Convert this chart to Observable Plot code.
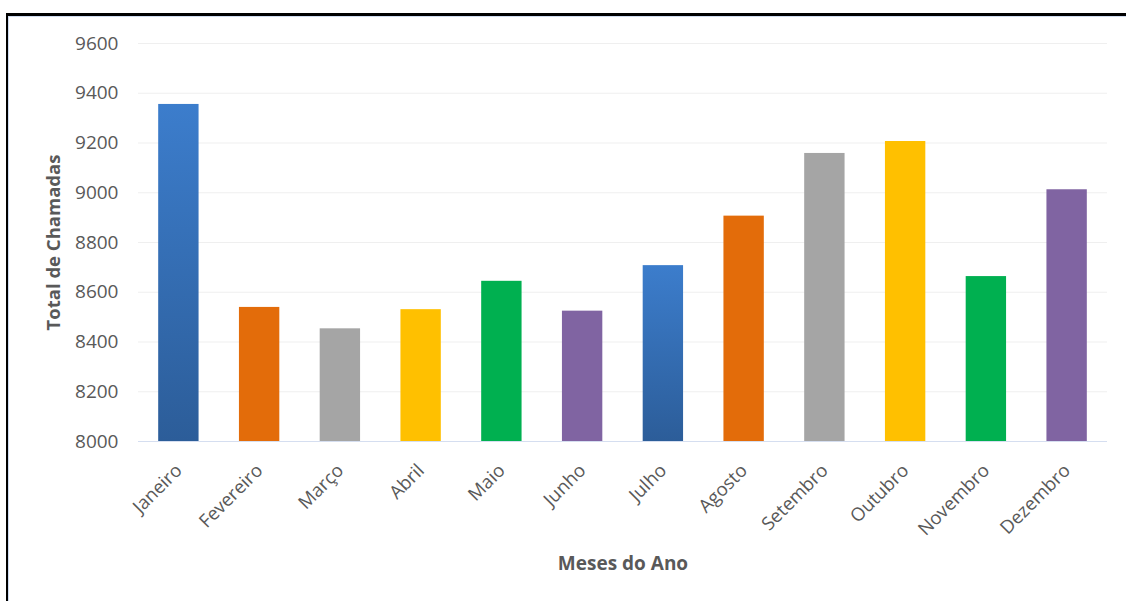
<!DOCTYPE html>
<html>
<head>
<meta charset="utf-8">
<script src="https://cdn.jsdelivr.net/npm/d3@7"></script>
<script src="https://cdn.jsdelivr.net/npm/@observablehq/plot@0.6"></script>
<style>
  html, body { margin: 0; padding: 0; background: #fff; }
  #wrap { position: relative; width: 1126px; height: 601px; overflow: hidden; }
  #frame {
    position: absolute; left: 6px; top: 13px; right: -10px; bottom: -10px;
    border-top: 3px solid #000; border-left: 2px solid #000;
    box-shadow: inset 1px 1px 0 #cfdcf0;
    pointer-events: none;
  }
  svg text { font-family: "Open Sans", sans-serif; }
</style>
</head>
<body>
<div id="wrap"><div id="frame"></div></div>
<script>
// Total de chamadas por mês
const meses = ["Janeiro", "Fevereiro", "Março", "Abril", "Maio", "Junho",
               "Julho", "Agosto", "Setembro", "Outubro", "Novembro", "Dezembro"];
const chamadas = [9355, 8539, 8453, 8530, 8644, 8524, 8707, 8906, 9158, 9206, 8663, 9012];
const yTicks = [8000, 8200, 8400, 8600, 8800, 9000, 9200, 9400, 9600];

// Paleta cíclica (azul em degradê, laranja, cinza, amarelo, verde, roxo)
const paleta = ["url(#azul)", "#e36c0a", "#a5a5a5", "#ffc000", "#00b050", "#8064a2"];

const dados = meses.map((m, i) => ({mes: m, total: chamadas[i], cor: paleta[i % paleta.length]}));

const grid = "#efefef";
const textColor = "#595959";

const chart = Plot.plot({
  width: 1126,
  height: 601,
  marginLeft: 138,
  marginRight: 19,
  marginTop: 43,
  marginBottom: 160,
  style: {background: "transparent", color: textColor},
  x: {domain: meses, paddingInner: 0.5, paddingOuter: 0.25, align: 0.5, round: false, label: null},
  y: {domain: [8000, 9600], label: null},
  color: {type: "identity"},
  marks: [
    Plot.ruleY(yTicks.filter(t => t > 8000), {stroke: grid, strokeWidth: 1.2}),
    Plot.barY(dados, {
      x: "mes", y1: 8000, y2: "total", fill: "cor",
      style: "filter: drop-shadow(1px 1px 1.5px rgba(0,0,0,0.28))"
    }),
    Plot.ruleY([8000], {stroke: "#d5def0", strokeWidth: 1.2}),
    Plot.axisY({ticks: yTicks, tickFormat: d => String(d), tickSize: 0, tickPadding: 20, fontSize: 19, label: null}),
    Plot.axisX({tickSize: 0, tickRotate: -45, tickPadding: 26, fontSize: 18.5, label: null}),
    Plot.text(["Total de Chamadas"], {
      frameAnchor: "left", dx: -84, rotate: -90, textAnchor: "middle", lineAnchor: "middle",
      fontSize: 18.5, fontWeight: "bold", fill: textColor
    }),
    Plot.text(["Meses do Ano"], {
      frameAnchor: "bottom", dy: 122, textAnchor: "middle", lineAnchor: "middle",
      fontSize: 19, fontWeight: "bold", fill: textColor
    })
  ]
});

// Degradê vertical das barras azuis
const defs = d3.select(chart).insert("defs", ":first-child");
const g = defs.append("linearGradient")
  .attr("id", "azul").attr("x1", 0).attr("y1", 0).attr("x2", 0).attr("y2", 1);
g.append("stop").attr("offset", "0%").attr("stop-color", "#3c7dcc");
g.append("stop").attr("offset", "100%").attr("stop-color", "#2c5d99");

const wrap = document.getElementById("wrap");
wrap.insertBefore(chart, wrap.firstChild);
chart.style.position = "absolute";
chart.style.left = "0";
chart.style.top = "0";
</script>
</body>
</html>
